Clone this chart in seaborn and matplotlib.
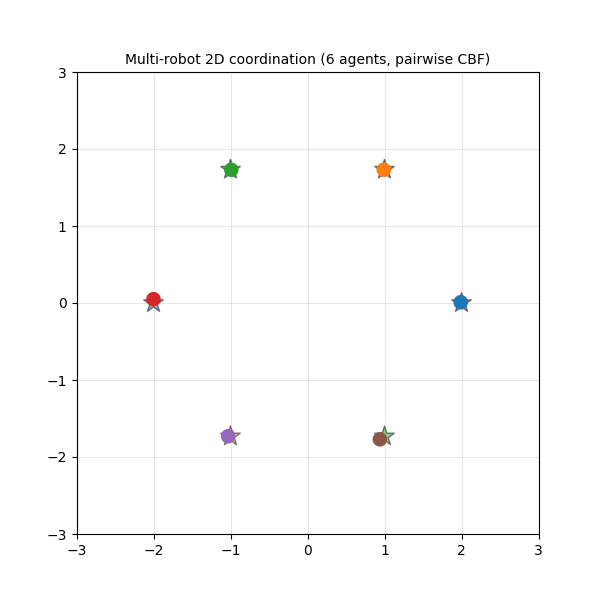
import pandas as pd
import seaborn as sns
import matplotlib.pyplot as plt

agents = ["0", "1", "2", "3", "4", "5"]
colors = ["#1f77b4", "#ff7f0e", "#2ca02c", "#d62728", "#9467bd", "#8c564b"]

# current robot positions
pos_x = [1.99, 0.99, -0.99, -2.0, -1.03, 0.94]
pos_y = [0.01, 1.73, 1.73, 0.05, -1.73, -1.77]

# goal positions (antipodal)
goal_x = [-2.0, -1.0, 1.0, 2.0, 1.0, -1.0]
goal_y = [0.0, -1.732, -1.732, 0.0, 1.732, 1.732]

df_pos = pd.DataFrame({"agent": agents, "x": pos_x, "y": pos_y})
df_goal = pd.DataFrame({"agent": agents, "x": goal_x, "y": goal_y})
palette = dict(zip(agents, colors))

fig, ax = plt.subplots(figsize=(6, 6), dpi=100)

sns.scatterplot(data=df_goal, x="x", y="y", hue="agent", palette=palette,
                marker="*", s=220, alpha=0.5, edgecolor="black", linewidth=1,
                legend=False, ax=ax, zorder=2)
sns.scatterplot(data=df_pos, x="x", y="y", hue="agent", palette=palette,
                marker="o", s=110, edgecolor="none", linewidth=0,
                legend=False, ax=ax, zorder=3)

ax.set_xlim(-3, 3)
ax.set_ylim(-3, 3)
ax.set_aspect("equal")
ax.grid(True, alpha=0.3)
ax.set_axisbelow(True)
ax.set_xlabel("")
ax.set_ylabel("")
ax.set_title("Multi-robot 2D coordination (6 agents, pairwise CBF)", fontsize=10)

plt.savefig("out.png", dpi=100)
